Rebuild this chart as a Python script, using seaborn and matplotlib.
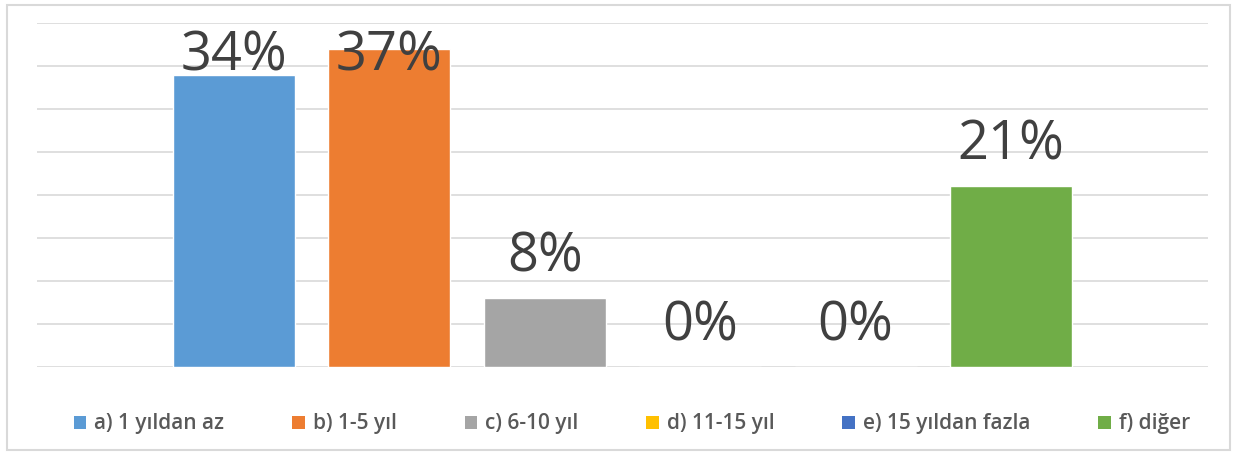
import matplotlib
matplotlib.use("Agg")
import matplotlib.pyplot as plt
import seaborn as sns
import pandas as pd
from matplotlib.patches import Patch, Rectangle

categories = ["a) 1 yıldan az", "b) 1-5 yıl", "c) 6-10 yıl", "d) 11-15 yıl", "e) 15 yıldan fazla", "f) diğer"]
values = [34, 37, 8, 0, 0, 21]
labels = ["34%", "37%", "8%", "0%", "0%", "21%"]
colors = ["#5B9BD5", "#ED7D31", "#A5A5A5", "#FFC000", "#4472C4", "#70AD47"]

sns.set_theme(style="white")
plt.rcParams['font.family'] = ['Open Sans', 'DejaVu Sans']

df = pd.DataFrame({"cat": categories, "val": values})

fig = plt.figure(figsize=(12.36, 4.55), dpi=100)
W, H = 1236, 455
ax = fig.add_axes([37 / W, 1 - 367 / H, (1208 - 37) / W, (367 - 23) / H])

sns.barplot(data=df, x="cat", y="val", hue="cat", palette=colors, dodge=False,
            width=0.785, legend=False, ax=ax, saturation=1)

ax.set_xlim(-1.267, 6.267)
ax.set_ylim(0, 40)
ax.set_yticks(range(0, 41, 5))
ax.yaxis.grid(True, color="#D9D9D9", linewidth=1.2)
ax.set_axisbelow(True)
ax.tick_params(left=False, bottom=False, labelleft=False, labelbottom=False)
ax.set_xlabel("")
ax.set_ylabel("")
for s in ax.spines.values():
    s.set_visible(False)

for i, (v, lab) in enumerate(zip(values, labels)):
    y = min(v + 3.1, 34.5)
    ax.text(i, y, lab, ha="center", va="baseline", fontsize=39, color="#404040")

handles = [Patch(facecolor=c, edgecolor="none") for c in colors]
leg = fig.legend(handles, categories, loc="center", bbox_to_anchor=(632 / W, 1 - 424 / H),
                 ncol=6, frameon=False, handlelength=0.6, handleheight=0.6,
                 handletextpad=0.4, columnspacing=3.25,
                 prop={"size": 15, "weight": "semibold"})
for t in leg.get_texts():
    t.set_color("#595959")

fig.patches.append(Rectangle((7 / W, 1 - 450 / H), (1230 - 7) / W, (450 - 5) / H,
                             transform=fig.transFigure, fill=False,
                             edgecolor="#D9D9D9", linewidth=1.5))

fig.savefig("out.png", dpi=100, facecolor="white")
